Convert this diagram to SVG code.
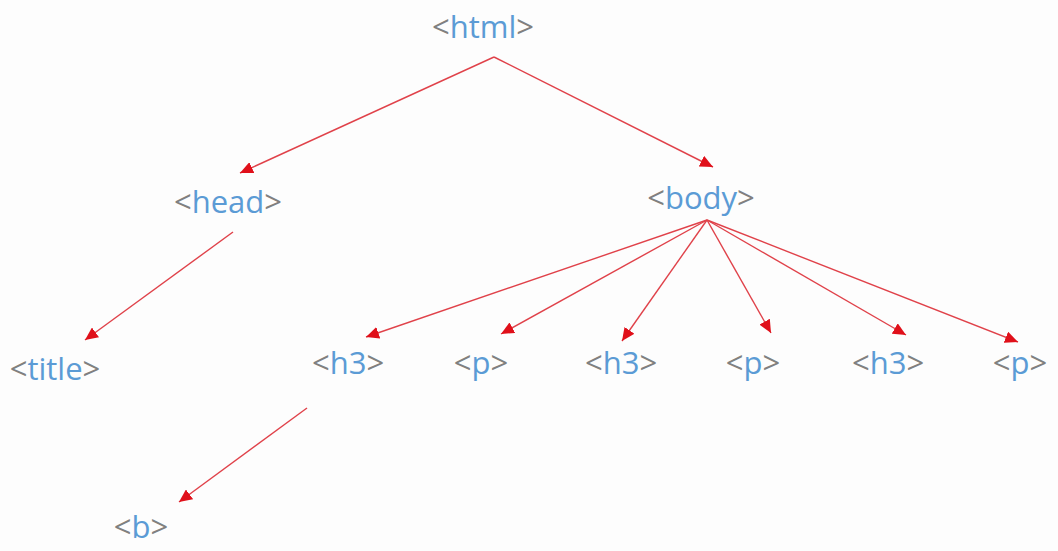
<svg xmlns="http://www.w3.org/2000/svg" width="1058" height="551" viewBox="0 0 1058 551">
<defs>
<style>
.t{font-family:"Open Sans","Liberation Sans",sans-serif;font-size:31px;text-anchor:middle;fill:#808080}
.n{fill:#5b9bd5}
.c line{stroke:#e0424a;stroke-width:1.4;fill:none;marker-end:url(#ah)}
</style>
<marker id="ah" markerUnits="userSpaceOnUse" markerWidth="14" markerHeight="12" refX="13" refY="6" orient="auto">
<path d="M0,0 L13,6 L0,12 Z" fill="#e0101a"/>
</marker>
</defs>
<rect width="1058" height="551" fill="#fdfdfd"/>
<g id="connectors" class="c">
<line x1="494" y1="57" x2="240" y2="173"/>
<line x1="494" y1="57" x2="713" y2="167"/>
<line x1="233" y1="232" x2="85" y2="340"/>
<line x1="707" y1="220" x2="366" y2="337"/>
<line x1="707" y1="220" x2="501" y2="334"/>
<line x1="707" y1="220" x2="622" y2="341"/>
<line x1="707" y1="220" x2="771" y2="333"/>
<line x1="707" y1="220" x2="906" y2="335"/>
<line x1="707" y1="220" x2="1018" y2="342"/>
<line x1="307" y1="408" x2="179" y2="502"/>
</g>
<g id="html"><text class="t" x="483" y="38">&lt;<tspan class="n">html</tspan>&gt;</text></g>
<g id="head"><text class="t" x="228" y="213">&lt;<tspan class="n">head</tspan>&gt;</text></g>
<g id="body"><text class="t" x="701" y="209">&lt;<tspan class="n">body</tspan>&gt;</text></g>
<g id="title"><text class="t" x="55" y="380">&lt;<tspan class="n">title</tspan>&gt;</text></g>
<g id="h3a"><text class="t" x="348" y="374">&lt;<tspan class="n">h3</tspan>&gt;</text></g>
<g id="pa"><text class="t" x="481" y="374">&lt;<tspan class="n">p</tspan>&gt;</text></g>
<g id="h3b"><text class="t" x="621" y="374">&lt;<tspan class="n">h3</tspan>&gt;</text></g>
<g id="pb"><text class="t" x="753" y="374">&lt;<tspan class="n">p</tspan>&gt;</text></g>
<g id="h3c"><text class="t" x="888" y="374">&lt;<tspan class="n">h3</tspan>&gt;</text></g>
<g id="pc"><text class="t" x="1020" y="374">&lt;<tspan class="n">p</tspan>&gt;</text></g>
<g id="b"><text class="t" x="141" y="538">&lt;<tspan class="n">b</tspan>&gt;</text></g>
</svg>
